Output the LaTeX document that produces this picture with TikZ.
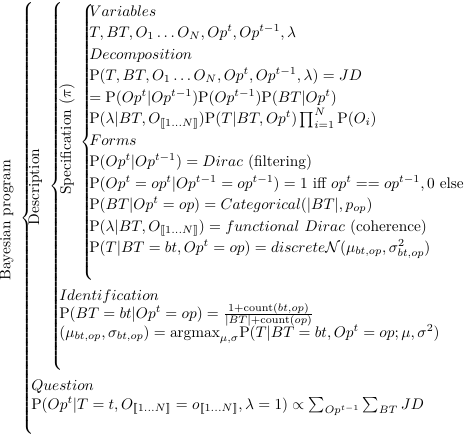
\documentclass[tikz,border=0pt]{standalone}
\usepackage{amsmath,amssymb,stmaryrd}
\newlength\pxu
\newcommand{\bbrace}[1]{$\left\{\vcenter{\hbox{\rule{0pt}{#1\pxu}}}\right.$}
\newcommand{\PP}{\mathrm{P}}
\newcommand{\rng}{\llbracket 1\ldots N\rrbracket}
\begin{document}
\settowidth\pxu{$\mathrm{P}(Op^t = op^t|Op^{t-1} = op^{t-1}) = 1 \text{ iff } op^t == op^{t-1}, 0 \text{ else}$}%
\pxu=0.0026667\pxu
\begin{tikzpicture}[x=\pxu,y=-\pxu,
  ln/.style={anchor=base west,inner sep=0pt},
  lbl/.style={rotate=90,anchor=base,inner sep=0pt},
  br/.style={anchor=west,inner sep=0pt}]
\useasboundingbox (0,0) rectangle (464,440);
% braces
\node[br] (bO) at (20,218.5) {\bbrace{437}};
\node[br] (bD) at (49.5,186) {\bbrace{372}};
\node[br] (bS) at (80,142.5) {\bbrace{281}};
% labels
\node[lbl] (lO) at (10.5,220) {Bayesian program};
\node[lbl] (lD) at (39,187) {Description};
\node[lbl] (lS) at (71,139) {Specification ($\pi$)};
% specification
\node[ln] (s1) at (89,16) {$Variables$};
\node[ln] (s2) at (89,37.5) {$T, BT, O_1 \ldots O_N, Op^t, Op^{t-1}, \lambda$};
\node[ln] (s3) at (89,59) {$Decomposition$};
\node[ln] (s4) at (89,80.5) {$\PP(T, BT, O_1 \ldots O_N, Op^t, Op^{t-1}, \lambda) = JD$};
\node[ln] (s5) at (89,102) {$= \PP(Op^t|Op^{t-1})\PP(Op^{t-1})\PP(BT|Op^t)$};
\node[ln] (s6) at (89,123.5) {$\PP(\lambda|BT, O_{\rng})\PP(T|BT, Op^t)\prod_{i=1}^N \PP(O_i)$};
\node[ln] (s7) at (89,145.5) {$Forms$};
\node[ln] (s8) at (89,166.5) {$\PP(Op^t|Op^{t-1}) = Dirac\ \text{(filtering)}$};
\node[ln] (s9) at (89,188) {$\PP(Op^t = op^t|Op^{t-1} = op^{t-1}) = 1 \text{ iff } op^t == op^{t-1}, 0 \text{ else}$};
\node[ln] (s10) at (89,209.5) {$\PP(BT|Op^t = op) = Categorical(|BT|, p_{op})$};
\node[ln] (s11) at (89,231) {$\PP(\lambda|BT, O_{\rng}) = functional\ Dirac\ \text{(coherence)}$};
\node[ln] (s12) at (89,252.5) {$\PP(T|BT = bt, Op^t = op) = discrete\mathcal{N}(\mu_{bt,op}, \sigma^2_{bt,op})$};
% identification
\node[ln] (d1) at (59,300) {$Identification$};
\node[ln] (d2) at (59,318.5) {$\PP(BT = bt|Op^t = op) = \frac{1+\mathrm{count}(bt,op)}{|BT|+\mathrm{count}(op)}$};
\node[ln] (d3) at (59,337.5) {$(\mu_{bt,op}, \sigma_{bt,op}) = \mathrm{argmax}_{\mu,\sigma} \PP(T|BT = bt, Op^t = op; \mu, \sigma^2)$};
% question
\node[ln] (q1) at (31,390) {$Question$};
\node[ln] (q2) at (31,409) {$\PP(Op^t|T = t, O_{\rng} = o_{\rng}, \lambda = 1) \propto \sum_{Op^{t-1}} \sum_{BT} JD$};
\end{tikzpicture}
\end{document}
